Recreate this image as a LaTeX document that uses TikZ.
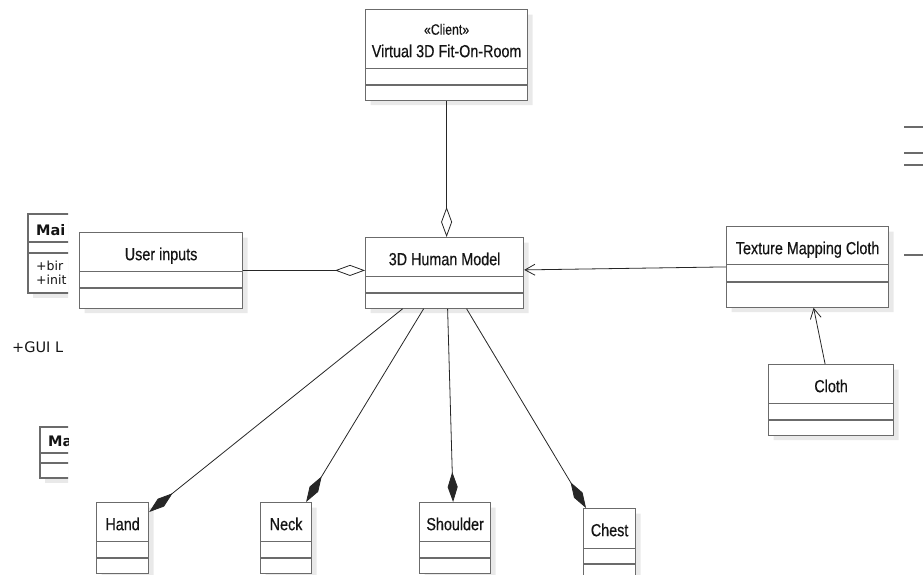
\documentclass[tikz,border=0pt]{standalone}
\usepackage{fontspec}
\newfontfamily\narrowsans[FakeStretch=0.82, FakeBold=0.4]{Liberation Sans}
\newfontfamily\widesans{DejaVu Sans}
\usepackage{xcolor}
\definecolor{classbd}{HTML}{6B6B6B}
\definecolor{classshadow}{HTML}{E9E9E9}
\definecolor{linemain}{HTML}{262626}
\definecolor{textmain}{HTML}{141414}
\usetikzlibrary{shapes.multipart, arrows.meta, shadows}

% three compartments: name, attributes, operations
\newcommand{\classbody}[1]{\rule[-11pt]{0pt}{38pt}#1\nodepart{second}\rule{0pt}{15pt}\nodepart{third}\rule{0pt}{14pt}}

\begin{document}
\begin{tikzpicture}[
        x=1pt, y=-1pt,
        classbox/.style={
            rectangle split,
            rectangle split parts=3,
            draw=classbd,
            line width=1.2pt,
            fill=white,
            inner sep=0pt,
            anchor=north west,
            text=textmain,
            font=\narrowsans\fontsize{17.5}{22.5}\selectfont,
            drop shadow={shadow xshift=5pt, shadow yshift=-5pt, fill=classshadow, opacity=1}
        },
        aggr/.style={
            -{Diamond[open, length=30pt, width=11pt]},
            draw=linemain,
            line width=0.8pt
        },
        compo/.style={
            -{Diamond[length=30pt, width=10pt]},
            draw=linemain,
            line width=0.8pt
        },
        navarrow/.style={
            -{Straight Barb[length=10pt, width=11pt]},
            draw=linemain,
            line width=0.8pt
        },
        fragline/.style={
            draw=classbd,
            line width=1.1pt
        },
        fragtext/.style={
            anchor=base west,
            inner sep=0pt,
            text=textmain,
            font=\widesans\fontsize{14.5}{16}\selectfont
        }
    ]

    \useasboundingbox (0,0) rectangle (923,574);

    % Nodes
    \node[classbox, minimum width=162pt] (virtual) at (365,9)
        {\rule[-11pt]{0pt}{58pt}\begin{tabular}[b]{@{}c@{}}{\fontsize{15}{16}\selectfont «Client»}\\Virtual 3D Fit-On-Room\end{tabular}%
         \nodepart{second}\rule{0pt}{15pt}\nodepart{third}\rule{0pt}{14pt}};
    \node[classbox, minimum width=158pt] (human) at (365,237) {\classbody{3D Human Model}};
    \node[classbox, minimum width=163pt] (user) at (79,232)
        {\rule[-11pt]{0pt}{38pt}User inputs\nodepart{second}\rule{0pt}{15pt}\nodepart{third}\rule{0pt}{19pt}};
    \node[classbox, minimum width=162pt] (texture) at (726,226)
        {\rule[-10pt]{0pt}{37pt}Texture Mapping Cloth\nodepart{second}\rule{0pt}{16pt}\nodepart{third}\rule{0pt}{24pt}};
    \node[classbox, minimum width=125pt] (cloth) at (768,364) {\classbody{Cloth}};
    \node[classbox, minimum width=52pt] (hand) at (96,502) {\classbody{Hand}};
    \node[classbox, minimum width=51pt] (neck) at (260,502) {\classbody{Neck}};
    \node[classbox, minimum width=71pt] (shoulder) at (419,502) {\classbody{Shoulder}};
    \node[classbox, minimum width=52pt] (chest) at (583,508)
        {\rule[-12pt]{0pt}{39pt}Chest\nodepart{second}\rule{0pt}{14pt}\nodepart{third}\rule{0pt}{14pt}};

    % Arrows
    \draw[aggr] (virtual.south) -- (virtual.south |- human.north);
    \draw[aggr] (user.east) -- (user.east -| human.west);
    \draw[navarrow] (texture.west) -- ([yshift=3pt]human.east);
    \draw[navarrow] ([xshift=-6pt]cloth.north) -- ([xshift=6pt]texture.south);
    \draw[compo] ([xshift=-42pt]human.south) -- ([yshift=-10pt]hand.north east);
    \draw[compo] ([xshift=-21pt]human.south) -- ([xshift=20pt]neck.north);
    \draw[compo] ([xshift=3pt]human.south) -- ([xshift=-2pt]shoulder.north);
    \draw[compo] ([xshift=22pt]human.south) -- ([xshift=3pt]chest.north west);

    % Cut-off pieces at the left edge
    \begin{scope}
        \clip (0,0) rectangle (68,574);
        \fill[classshadow] (33,219) rectangle (75,298);
        \fill[white] (28,214) rectangle (75,293);
        \draw[fragline] (75,214) -| (28,293) -- (75,293);
        \draw[fragline] (28,242) -- (75,242);
        \draw[fragline] (28,253) -- (75,253);
        \node[fragtext] (mainhead) at (36,235) {\bfseries Mai};
        \node[fragtext, font=\widesans\fontsize{12.5}{14}\selectfont] (mainopa) at (36,270) {+bir};
        \node[fragtext, font=\widesans\fontsize{12.5}{14}\selectfont] (mainopb) at (36,284) {+init};
        \node[fragtext] (guilabel) at (12,352) {+GUI L};
        \fill[classshadow] (45,432) rectangle (75,483);
        \fill[white] (40,427) rectangle (75,478);
        \draw[fragline] (75,427) -| (40,478) -- (75,478);
        \draw[fragline] (40,453) -- (75,453);
        \draw[fragline] (40,463) -- (75,463);
        \node[fragtext] (mahead) at (48,446) {\bfseries Ma};
    \end{scope}

    % Cut-off pieces at the right edge
    \draw[fragline] (904,127) -- (923,127);
    \draw[fragline] (904,153) -- (923,153);
    \draw[fragline] (904,165) -- (923,165);
    \draw[fragline] (904,255) -- (923,255);

\end{tikzpicture}
\end{document}
